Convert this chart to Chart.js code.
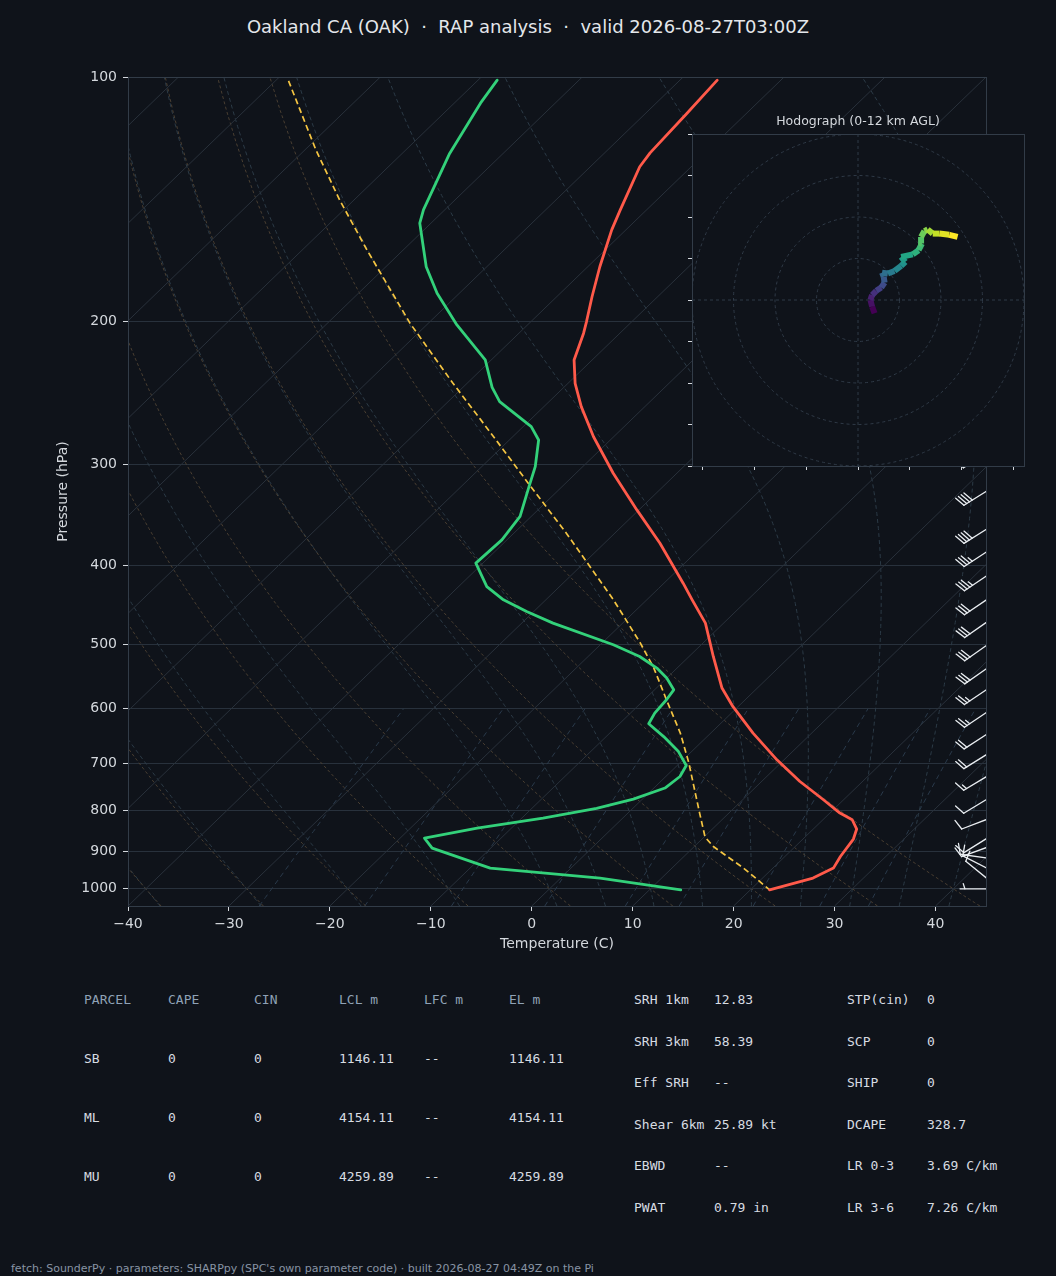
<!DOCTYPE html>
<html><head><meta charset="utf-8">
<script src="https://cdn.jsdelivr.net/npm/chart.js@4.4.1/dist/chart.umd.min.js"></script>
<style>
html,body{margin:0;padding:0;background:#0f131a;}
body{width:1056px;height:1276px;position:relative;overflow:hidden;font-family:"DejaVu Sans",sans-serif;}
canvas{position:absolute;}
#main{left:0;top:0;}
#hodo{left:680px;top:100px;}
.tx{position:absolute;white-space:pre;line-height:16px;transform:translateY(-50%);}
.mono{font-family:"DejaVu Sans Mono",monospace;font-size:13px;color:#d7dce2;}
.hd{color:#8fa2b6;}
#title{position:absolute;left:0;width:1056px;top:27px;text-align:center;font-size:18px;color:#e4e7eb;transform:translateY(-50%);line-height:22px;white-space:pre;}
#foot{font-size:11px;color:#8894a4;left:11px;top:1269px;}
</style></head><body>
<div id="title">Oakland CA (OAK)  ·  RAP analysis  ·  valid 2026-08-27T03:00Z</div>
<canvas id="main" width="1056" height="960" style="width:1056px;height:960px"></canvas>
<canvas id="hodo" width="360" height="380" style="width:360px;height:380px"></canvas>
<div id="table"></div>
<div id="foot" class="tx">fetch: SounderPy · parameters: SHARPpy (SPC's own parameter code) · built 2026-08-27 04:49Z on the Pi</div>
<script>
// ---------------- data ----------------
const X_TICKS=[-40,-30,-20,-10,0,10,20,30,40];
const P_TICKS=[100,200,300,400,500,600,700,800,900,1000];
const X_MIN=-40, X_MAX=45, P_TOP=100, P_BOT=1050;

const P_TEMP=[100.9,110.9,124.0,129.0,145.8,154.3,171.3,186.5,200.1,206.8,223.1,238.4,254.7,277.4,307.7,341.4,375.2,420.3,440.6,470.7,517.4,565.9,596.6,643.1,693.6,737.6,776.8,806.7,822.1,844.1,868.4,912.4,943.0,970.0,1002.8];
const TEMP=[-66.3,-65.9,-65.5,-65.1,-62.6,-61.4,-58.8,-56.5,-54.5,-53.6,-51.8,-49.3,-46.3,-42.0,-36.3,-30.2,-24.5,-18.1,-15.5,-11.8,-7.6,-3.5,-0.5,4.2,9.3,13.8,18.0,21.0,22.9,24.3,25.0,25.5,26.0,25.0,21.9];

const P_DEWPT=[100.9,107.7,124.2,145.8,151.4,171.3,184.7,202.0,223.1,241.2,251.1,269.6,280.0,302.0,318.0,347.8,371.7,397.0,424.4,440.6,455.5,470.7,500.5,517.4,534.7,550.1,568.7,585.0,607.5,626.2,649.4,677.6,704.9,727.2,751.4,775.3,795.8,818.2,841.7,865.9,891.1,943.0,970.0,1002.8];
const DEWPT=[-88.1,-87.4,-85.3,-82.1,-81.1,-76.0,-72.2,-67.0,-60.6,-57.1,-54.9,-49.2,-47.1,-44.7,-43.4,-41.1,-40.5,-40.7,-37.2,-34.2,-30.7,-26.9,-18.7,-14.9,-12.0,-10.0,-8.1,-7.8,-7.6,-7.1,-4.3,-1.3,0.9,1.4,1.1,-0.9,-3.6,-7.9,-13.4,-17.6,-15.8,-8.0,3.9,13.1];

const P_PARCEL=[101.1,123.0,141.8,163.3,201.1,238.4,277.4,316.5,364.7,408.5,440.6,464.0,498.1,534.7,585.0,643.1,699.9,748.0,806.7,863.5,887.1,943.0,1002.8];
const PARCEL=[-108.7,-98.9,-91.4,-83.6,-71.8,-61.4,-51.9,-43.7,-34.8,-27.9,-23.3,-20.3,-16.2,-12.3,-7.8,-3.0,0.9,3.8,7.1,10.1,11.9,17.1,21.9];

const BARB_P=[292,324,361,385,412,441,470,502,536,569,607,646,684,728,777,822,868,890,916,942,969,1000];
const BARB_DIR=[240,238,238,237,236,236,235,235,235,236,236,237,238,239,239,249,238,250,278,297,309,270];
const BARB_SPD=[40,40,40,35,35,30,30,30,30,25,25,20,20,15,10,10,10,10,10,10,10,5];

const HODO_U=[4.0,3.4,3.0,3.4,4.4,5.6,6.4,6.2,5.8,7.2,8.8,10.4,11.4,10.4,13.2,14.6,15.4,15.2,16.0,16.8,18.0,19.6,22.0,24.0];
const HODO_V=[-3.2,-1.6,0.0,1.2,2.2,3.0,4.2,5.6,6.6,6.4,7.0,8.2,9.2,10.4,11.0,12.0,13.6,15.2,16.6,17.0,16.0,16.0,15.7,15.2];
const HODO_XT=[-37.5,-25,-12.5,0,12.5,25,37.5];
const HODO_YT=[-40,-30,-20,-10,0,10,20,30,40];
const HODO_RINGS=[10,20,30,40];

const ISO_T=[-130,-120,-110,-100,-90,-80,-70,-60,-50,-40,-30,-20,-10,0,10,20,30,40];
const DRY_T0=[-40,-30,-20,-10,0,10,20,30,40];
const MOIST_T0=[-40,-30,-20,-10,0,5,10,15,20,25,30,35,40,45];
const MIX_W=[0.0004,0.001,0.002,0.004,0.007,0.01,0.016,0.024,0.032];

const PARCEL_COLS=['PARCEL','CAPE','CIN','LCL m','LFC m','EL m'];
const PARCEL_ROWS=[['SB','0','0','1146.11','--','1146.11'],['ML','0','0','4154.11','--','4154.11'],['MU','0','0','4259.89','--','4259.89']];
const PARAM_ROWS=[['SRH 1km','12.83','STP(cin)','0'],['SRH 3km','58.39','SCP','0'],['Eff SRH','--','SHIP','0'],['Shear 6km','25.89 kt','DCAPE','328.7'],['EBWD','--','LR 0-3','3.69 C/km'],['PWAT','0.79 in','LR 3-6','7.26 C/km']];

// ---------------- helpers ----------------
const LOGR=Math.log(P_BOT/P_TOP);
const skew=(T,p)=>T+(X_MAX-X_MIN)*Math.log(P_BOT/p)/LOGR;
const toPts=(ps,ts)=>ps.map((p,i)=>({x:skew(ts[i],p),y:p}));

const PGRID=[]; for(let p=P_BOT;p>=P_TOP;p-=10) PGRID.push(p);
function dryLine(t0){return PGRID.map(p=>({x:skew((t0+273.15)*Math.pow(p/1000,0.2857)-273.15,p),y:p}));}
function lapse(p,T){const e=6.112*Math.exp(17.67*(T-273.15)/(T-29.65));const rs=0.622*e/(p-e);
  return (287.04*T+2.501e6*rs)/(p*(1005.7+2.501e6*2.501e6*rs*0.622/(287.04*T*T)));}
function integ(T,p0,p1,h){const out=[[p0,T]];let p=p0;
  while((h<0&&p+h>=p1-1e-9)||(h>0&&p+h<=p1+1e-9)){
    const k1=lapse(p,T),k2=lapse(p+h/2,T+h*k1/2),k3=lapse(p+h/2,T+h*k2/2),k4=lapse(p+h,T+h*k3);
    T+=h*(k1+2*k2+2*k3+k4)/6;p+=h;out.push([p,T]);}
  return out;}
function moistLine(t0){const up=integ(t0+273.15,1000,P_TOP,-5),dn=integ(t0+273.15,1000,P_BOT,5);
  const all=dn.reverse().concat(up.slice(1));return all.map(([p,T])=>({x:skew(T-273.15,p),y:p}));}
const MIXP=[]; for(let p=P_BOT;p>=600;p-=25) MIXP.push(p);
function mixLine(w){return MIXP.map(p=>{const e=w*p/(0.622+w);const l=Math.log(e/6.112);return {x:skew(243.5*l/(17.67-l),p),y:p};});}

const guide=(data,color,dash)=>({data,borderColor:color,borderWidth:1,borderDash:dash,pointRadius:0,showLine:true,tension:0,order:5});

const datasets=[
  {data:toPts(P_TEMP,TEMP),borderColor:'#ff5a4a',borderWidth:2.8,pointRadius:0,showLine:true,borderJoinStyle:'round',borderCapStyle:'round',order:0},
  {data:toPts(P_DEWPT,DEWPT),borderColor:'#33d17a',borderWidth:2.8,pointRadius:0,showLine:true,borderJoinStyle:'round',borderCapStyle:'round',order:0},
  {data:toPts(P_PARCEL,PARCEL),borderColor:'#f5c542',borderWidth:1.7,borderDash:[6,3.5],pointRadius:0,showLine:true,order:0}
];
ISO_T.forEach(t=>datasets.push(guide([{x:skew(t,P_BOT),y:P_BOT},{x:skew(t,P_TOP),y:P_TOP}],'#29313b',[])));
DRY_T0.forEach(t=>datasets.push(guide(dryLine(t),'#4a3f32',[3,2.5])));
MOIST_T0.forEach(t=>datasets.push(guide(moistLine(t),'#2c3b47',[4,3])));
MIX_W.forEach(w=>datasets.push(guide(mixLine(w),'#2a3a4b',[5,4])));

function drawBarb(ctx,x0,y0,spd,dir,L){
  const r=dir*Math.PI/180;
  const sx=Math.sin(r),sy=-Math.cos(r),px=Math.cos(r),py=Math.sin(r);
  const fh=0.4*L,fw=0.25*L,sp=0.125*L;
  let v=Math.round(spd/5)*5;
  const nf=Math.floor(v/50);v-=nf*50;const nb=Math.floor(v/10);v-=nb*10;const half=v>=5;
  const P=(a,s)=>[x0+sx*a+px*s,y0+sy*a+py*s];
  ctx.beginPath();ctx.moveTo(x0,y0);let e=P(L,0);ctx.lineTo(e[0],e[1]);ctx.stroke();
  let off=L;
  for(let i=0;i<nf;i++){const a=P(off,0),b=P(off-fw/2,fh),c=P(off-fw,0);
    ctx.beginPath();ctx.moveTo(a[0],a[1]);ctx.lineTo(b[0],b[1]);ctx.lineTo(c[0],c[1]);ctx.closePath();ctx.fill();off-=fw+sp;}
  for(let i=0;i<nb;i++){const a=P(off,0),b=P(off+fw/2,fh);ctx.beginPath();ctx.moveTo(a[0],a[1]);ctx.lineTo(b[0],b[1]);ctx.stroke();off-=sp;}
  if(half){if(off===L)off-=1.5*sp;const a=P(off,0),b=P(off+fw/4,fh/2);ctx.beginPath();ctx.moveTo(a[0],a[1]);ctx.lineTo(b[0],b[1]);ctx.stroke();}
}

const skewPlugin={id:'skewPlugin',
  afterDatasetsDraw(chart){
    const {ctx,chartArea:a,scales:{y}}=chart;
    ctx.save();ctx.beginPath();ctx.rect(a.left,a.top,a.right-a.left,a.bottom-a.top);ctx.clip();
    ctx.strokeStyle='#e9edf1';ctx.fillStyle='#e9edf1';ctx.lineWidth=1.3;ctx.lineCap='round';
    BARB_P.forEach((p,i)=>drawBarb(ctx,a.right,y.getPixelForValue(p),BARB_SPD[i],BARB_DIR[i],26));
    ctx.restore();
    ctx.save();ctx.strokeStyle='#323c48';ctx.lineWidth=1;
    ctx.strokeRect(Math.round(a.left)+0.5,Math.round(a.top)+0.5,Math.round(a.right-a.left),Math.round(a.bottom-a.top));ctx.restore();
  }};

const FONT={family:'DejaVu Sans',size:14};
const TXT='#d4d8dd';
new Chart(document.getElementById('main'),{
  type:'scatter',
  data:{datasets},
  options:{responsive:false,animation:false,events:[],
    layout:{padding:{left:0,right:70,top:77,bottom:0}},
    plugins:{legend:{display:false},tooltip:{enabled:false}},
    scales:{
      x:{type:'linear',min:X_MIN,max:X_MAX,position:'bottom',
        afterBuildTicks:s=>{s.ticks=X_TICKS.map(v=>({value:v}));},
        afterFit:s=>{s.height=54;},
        grid:{drawOnChartArea:false,drawTicks:true,tickLength:5,tickColor:TXT},
        border:{display:false},
        ticks:{color:TXT,font:FONT,padding:5,maxRotation:0,autoSkip:false,callback:v=>(v<0?'\u2212'+Math.abs(v):String(v))},
        title:{display:true,text:'Temperature (C)',color:TXT,font:FONT,padding:{top:0,bottom:7.6}}},
      y:{type:'logarithmic',min:P_TOP,max:P_BOT,reverse:true,position:'left',
        afterBuildTicks:s=>{s.ticks=P_TICKS.map(v=>({value:v}));},
        afterFit:s=>{s.width=128;},
        grid:{color:'#28313c',lineWidth:1,drawTicks:true,tickLength:5,tickColor:TXT},
        border:{display:false},
        ticks:{color:TXT,font:FONT,padding:6,autoSkip:false,callback:v=>String(v)},
        title:{display:true,text:'Pressure (hPa)',color:TXT,font:FONT,padding:{top:54.6,bottom:0}}}
    }},
  plugins:[skewPlugin]
});

// ---------------- hodograph ----------------
const VIR=['#440154','#482475','#414487','#355f8d','#2a788e','#21918c','#22a884','#44bf70','#7ad151','#bddf26','#fde725'];
function hx(h){return [parseInt(h.slice(1,3),16),parseInt(h.slice(3,5),16),parseInt(h.slice(5,7),16)];}
function viridis(t){t=Math.max(0,Math.min(1,t));const f=t*10,i=Math.min(9,Math.floor(f)),r=f-i;
  const a=hx(VIR[i]),b=hx(VIR[i+1]);return 'rgb('+a.map((c,k)=>Math.round(c+(b[k]-c)*r)).join(',')+')';}

const hodoPlugin={id:'hodoPlugin',
  beforeDatasetsDraw(chart){
    const {ctx,chartArea:a,scales:{x,y}}=chart;
    ctx.save();ctx.fillStyle='#0f131a';ctx.fillRect(a.left,a.top,a.right-a.left,a.bottom-a.top);
    ctx.beginPath();ctx.rect(a.left,a.top,a.right-a.left,a.bottom-a.top);ctx.clip();
    ctx.strokeStyle='#2f3a47';ctx.lineWidth=1;ctx.setLineDash([3,3]);
    const cx=x.getPixelForValue(0),cy=y.getPixelForValue(0);
    HODO_RINGS.forEach(r=>{const rad=Math.abs(x.getPixelForValue(r)-cx);ctx.beginPath();ctx.arc(cx,cy,rad,0,Math.PI*2);ctx.stroke();});
    ctx.beginPath();ctx.moveTo(a.left,cy);ctx.lineTo(a.right,cy);ctx.moveTo(cx,a.top);ctx.lineTo(cx,a.bottom);ctx.stroke();
    ctx.restore();
  },
  afterDraw(chart){
    const {ctx,chartArea:a}=chart;
    ctx.save();ctx.strokeStyle='#323c48';ctx.lineWidth=1;
    ctx.strokeRect(Math.round(a.left)+0.5,Math.round(a.top)+0.5,Math.round(a.right-a.left),Math.round(a.bottom-a.top));
    ctx.fillStyle=TXT;ctx.font='12.5px "DejaVu Sans"';ctx.textAlign='center';ctx.textBaseline='middle';
    ctx.fillText('Hodograph (0-12 km AGL)',(a.left+a.right)/2,a.top-12);
    ctx.restore();
  }};

new Chart(document.getElementById('hodo'),{
  type:'scatter',
  data:{datasets:[{data:HODO_U.map((u,i)=>({x:u,y:HODO_V[i]})),showLine:true,borderWidth:6,pointRadius:0,
    borderCapStyle:'butt',borderJoinStyle:'round',borderColor:VIR[0],
    segment:{borderColor:c=>viridis(c.p0DataIndex/(HODO_U.length-2))}}]},
  options:{responsive:false,animation:false,events:[],
    layout:{padding:{left:0,right:16,top:34,bottom:0}},
    plugins:{legend:{display:false},tooltip:{enabled:false}},
    scales:{
      x:{type:'linear',min:-40,max:40,position:'bottom',
        afterBuildTicks:s=>{s.ticks=HODO_XT.map(v=>({value:v}));},
        afterFit:s=>{s.height=14;},
        grid:{drawOnChartArea:false,drawTicks:true,tickLength:4,tickColor:TXT},
        border:{display:false},ticks:{display:false}},
      y:{type:'linear',min:-40,max:40,position:'left',
        afterBuildTicks:s=>{s.ticks=HODO_YT.map(v=>({value:v}));},
        afterFit:s=>{s.width=12;},
        grid:{drawOnChartArea:false,drawTicks:true,tickLength:4,tickColor:TXT},
        border:{display:false},ticks:{display:false}}
    }},
  plugins:[hodoPlugin]
});

// ---------------- table ----------------
const tbl=document.getElementById('table');
function put(txt,x,y,cls){const d=document.createElement('div');d.className='tx mono '+(cls||'');d.textContent=txt;d.style.left=x+'px';d.style.top=y+'px';tbl.appendChild(d);}
const PC_X=[84,168,254,339,424,509];
const PC_Y=[1058.5,1117.5,1176.5];
PARCEL_COLS.forEach((c,i)=>put(c,PC_X[i],1000,'hd'));
PARCEL_ROWS.forEach((r,j)=>r.forEach((c,i)=>put(c,PC_X[i],PC_Y[j])));
const PR_X=[634,714,847,927];
const PR_Y=[1000,1041.5,1083,1124.5,1166,1207.5];
PARAM_ROWS.forEach((r,j)=>r.forEach((c,i)=>put(c,PR_X[i],PR_Y[j])));
</script>
</body></html>
